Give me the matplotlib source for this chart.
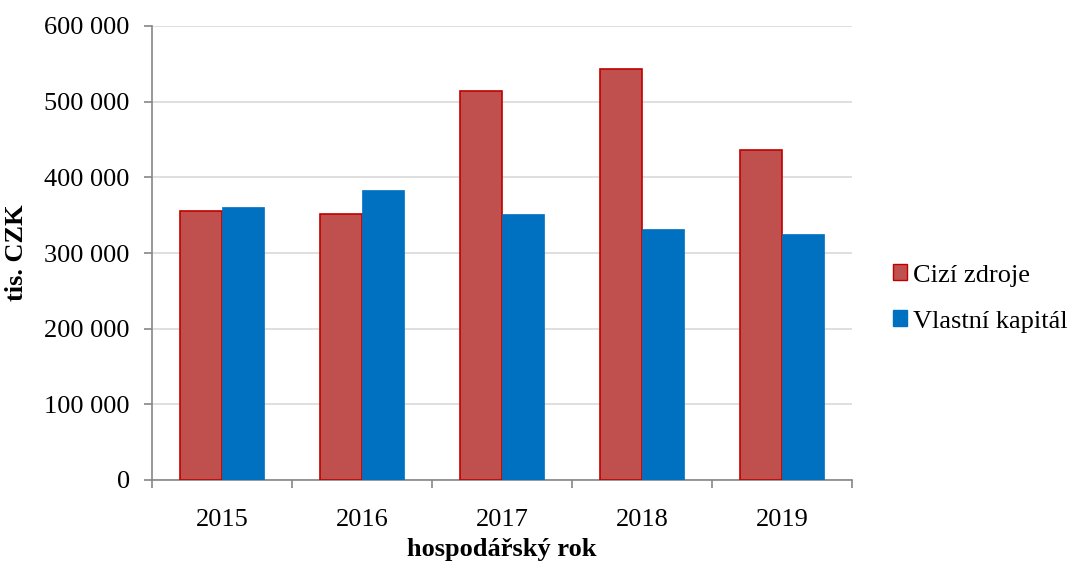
import numpy as np
import matplotlib.pyplot as plt
from matplotlib.ticker import FuncFormatter
from matplotlib.patches import Patch

plt.rcParams['font.family'] = ['Liberation Serif', 'DejaVu Serif']

roky = ["2015", "2016", "2017", "2018", "2019"]
cizi_zdroje = [355200, 351600, 514300, 543400, 435800]
vlastni_kapital = [361400, 383900, 352100, 332300, 325700]

fig = plt.figure(figsize=(10.72, 5.63), dpi=100)
ax = fig.add_axes([152/1072, 1-480/563, 700/1072, 454/563])

x = np.arange(len(roky))
w = 0.3
ax.bar(x - w/2, cizi_zdroje, w, color="#C0504D", edgecolor="#C00000", linewidth=1.2, zorder=3)
ax.bar(x + w/2, vlastni_kapital, w, color="#0070C0", edgecolor="#0070C0", linewidth=0.5, zorder=3)

ax.set_xlim(-0.5, len(roky) - 0.5)
ax.set_ylim(0, 600000)
ax.set_yticks(np.arange(0, 600001, 100000))
ax.yaxis.set_major_formatter(FuncFormatter(lambda v, p: f"{int(v):,}".replace(",", " ")))
ax.grid(axis="y", color="#D9D9D9", linewidth=1.2, zorder=0)

# popisky let mezi tickami na hranicich kategorii
ax.set_xticks(np.arange(-0.5, len(roky), 1))
ax.set_xticklabels([])
ax.set_xticks(x, minor=True)
ax.set_xticklabels(roky, minor=True, fontsize=19)
ax.tick_params(axis="x", which="minor", length=0, pad=21)
ax.tick_params(axis="x", which="major", length=6, color="#868686", width=1.2)
ax.tick_params(axis="y", length=6, color="#868686", width=1.2, labelsize=19, pad=10)

for s in ["top", "right"]:
    ax.spines[s].set_visible(False)
for s in ["left", "bottom"]:
    ax.spines[s].set_color("#868686")
    ax.spines[s].set_linewidth(1.2)

ax.set_ylabel("tis. CZK", fontsize=19, fontweight="bold", labelpad=12)
ax.set_xlabel("hospodářský rok", fontsize=19, fontweight="bold", labelpad=5)

handles = [Patch(facecolor="#C0504D", edgecolor="#C00000", label="Cizí zdroje"),
           Patch(facecolor="#0070C0", edgecolor="#0070C0", label="Vlastní kapitál")]
fig.legend(handles=handles, loc="center left", bbox_to_anchor=(0.833, 0.47), frameon=False,
           fontsize=19, handlelength=0.55, handleheight=0.55, handletextpad=0.2,
           labelspacing=0.9, borderpad=0, borderaxespad=0)

fig.savefig("out.png", dpi=100)
